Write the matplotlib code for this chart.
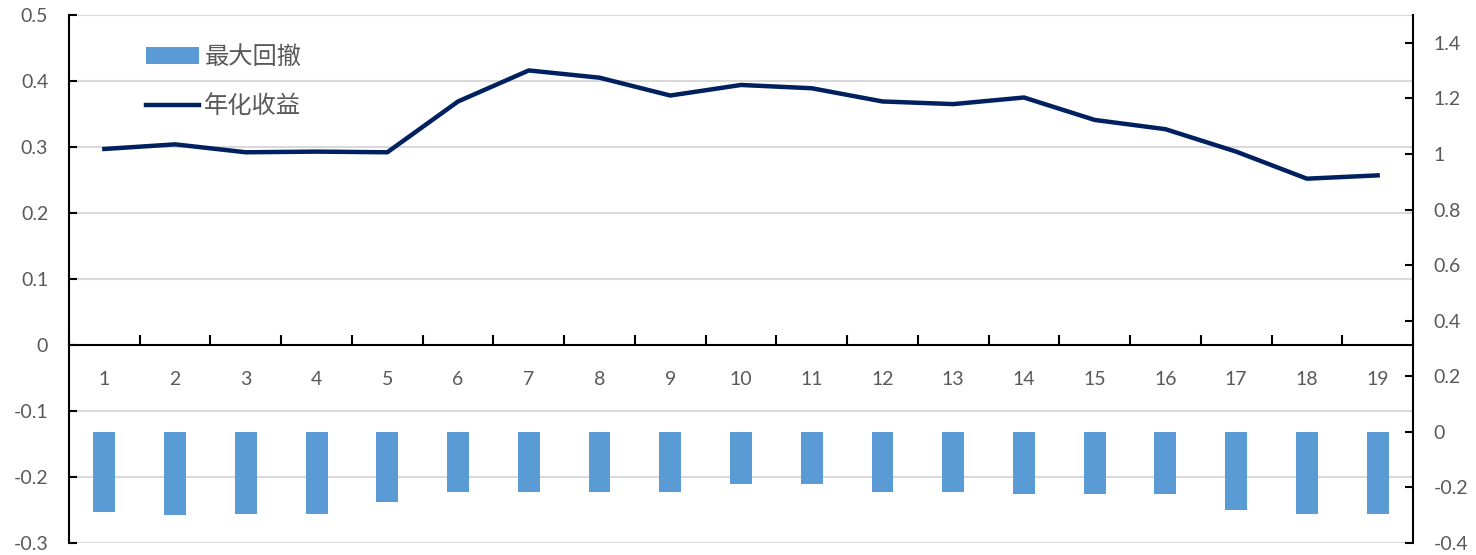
import matplotlib
matplotlib.use("Agg")
import matplotlib.pyplot as plt
from matplotlib.ticker import FixedLocator, NullFormatter

categories = [str(i) for i in range(1, 20)]
annual_return = [0.297, 0.304, 0.292, 0.293, 0.292, 0.369, 0.416, 0.405, 0.378, 0.394,
                 0.389, 0.369, 0.365, 0.375, 0.341, 0.327, 0.293, 0.252, 0.257]
max_drawdown = [-0.287, -0.301, -0.294, -0.294, -0.251, -0.216, -0.216, -0.216, -0.216, -0.187,
                -0.187, -0.216, -0.216, -0.222, -0.222, -0.222, -0.281, -0.294, -0.294]
left_ticks = [0.5, 0.4, 0.3, 0.2, 0.1, 0, -0.1, -0.2, -0.3]
left_labels = ["0.5", "0.4", "0.3", "0.2", "0.1", "0", "-0.1", "-0.2", "-0.3"]
right_ticks = [1.4, 1.2, 1.0, 0.8, 0.6, 0.4, 0.2, 0, -0.2, -0.4]
right_labels = ["1.4", "1.2", "1", "0.8", "0.6", "0.4", "0.2", "0", "-0.2", "-0.4"]

plt.rcParams['font.family'] = ['Lato', 'Noto Sans CJK SC', 'DejaVu Sans']
TXT = '#595959'
GRID = '#d9d9d9'

fig = plt.figure(figsize=(14.76, 5.55), dpi=100)
ax = fig.add_axes([69/1476, 1-543/555, (1413-69)/1476, (543-15)/555])
ax2 = ax.twinx()

x = list(range(1, len(categories) + 1))

# gridlines (left axis)
ax.set_ylim(-0.3, 0.5)
ax.set_xlim(0.5, len(categories) + 0.5)
for t in left_ticks:
    if t != 0:
        ax.axhline(t, color=GRID, lw=1.5, zorder=0)

line, = ax.plot(x, annual_return, color='#002060', lw=3.2, zorder=5, label='年化收益',
                solid_joinstyle='round')

ax2.set_ylim(-0.4, 1.5)
bars = ax2.bar(x, max_drawdown, width=0.31, color='#5b9bd5', zorder=3, label='最大回撤')

# spines
ax.spines['top'].set_visible(False)
ax2.spines['top'].set_visible(False)
ax2.spines['bottom'].set_visible(False)
ax2.spines['left'].set_visible(False)
ax.spines['right'].set_visible(False)
ax.spines['bottom'].set_position(('data', 0))
for sp in [ax.spines['left'], ax.spines['bottom'], ax2.spines['right']]:
    sp.set_color('black')
    sp.set_linewidth(1.5)

# left y ticks
ax.set_yticks(left_ticks)
ax.set_yticklabels(left_labels)
ax.tick_params(axis='y', direction='in', length=6, width=1.5, color='black',
               labelsize=14, labelcolor=TXT, pad=15)
# right y ticks
ax2.set_yticks(right_ticks)
ax2.set_yticklabels(right_labels)
ax2.tick_params(axis='y', direction='in', length=6, width=1.5, color='black',
                labelsize=14, labelcolor=TXT, pad=15)

# x ticks: labels at centers, marks at boundaries
ax.set_xticks(x)
ax.set_xticklabels(categories)
ax.tick_params(axis='x', which='major', length=0, labelsize=14, labelcolor=TXT, pad=19)
ax.xaxis.set_minor_locator(FixedLocator([i + 0.5 for i in range(0, len(categories) + 1)]))
ax.xaxis.set_minor_formatter(NullFormatter())
ax.tick_params(axis='x', which='minor', direction='in', length=7, width=1.5, color='black')

ax.set_zorder(1)
ax2.set_zorder(2)
ax2.patch.set_visible(False)

leg = fig.legend([bars, line], ['最大回撤', '年化收益'], loc='upper left',
                 bbox_to_anchor=(146/1476, 1-44/555), frameon=False, borderpad=0,
                 borderaxespad=0, handlelength=2.2, handletextpad=0.2,
                 labelspacing=0.95, prop={'family': ['Noto Sans CJK SC', 'DejaVu Sans'], 'size': 17.5})
for t in leg.get_texts():
    t.set_color(TXT)

fig.savefig('out.png', dpi=100)
